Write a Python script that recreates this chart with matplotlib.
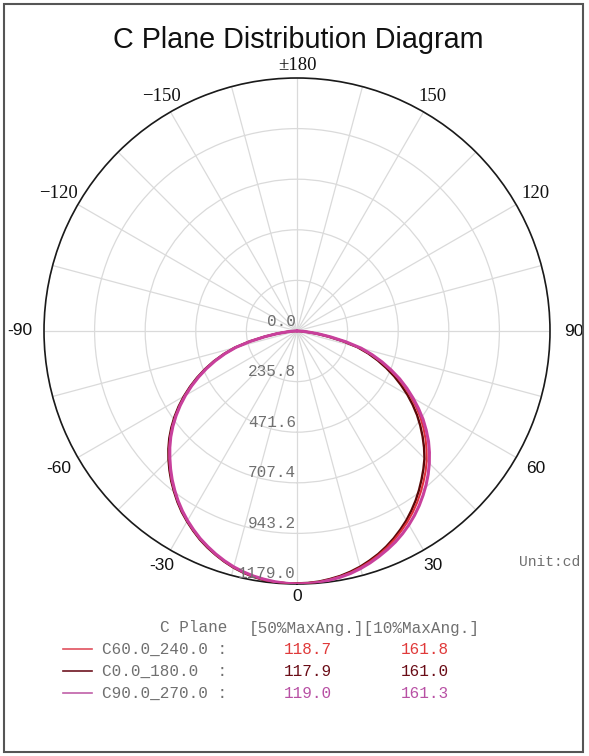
import numpy as np
import matplotlib
matplotlib.use("Agg")
import matplotlib.pyplot as plt
from matplotlib.lines import Line2D
from matplotlib.patches import Rectangle
from matplotlib.transforms import offset_copy

# ---------------- data ----------------
title = "C Plane Distribution Diagram"
# vertical angle (deg), -90 .. 90 in 2.5 deg steps
gamma = list(np.arange(-90, 90.01, 2.5))

c0_180 = [4, 22, 47, 96, 155, 228, 301, 358, 413, 464, 514, 562, 609, 654, 697, 738, 777, 813, 847,
          880, 912, 942, 972, 1000, 1025, 1049, 1072, 1092, 1110, 1127, 1142, 1154, 1164, 1171, 1175, 1176,
          1176,
          1175, 1172, 1166, 1159, 1149, 1137, 1122, 1106, 1087, 1066, 1043, 1019, 992, 964, 934, 903, 872,
          840, 803, 764, 724, 683, 639, 594, 547, 500, 450, 400, 348, 292, 218, 145, 88, 42, 18, 4]
c60_240 = [4, 21, 46, 94, 152, 224, 297, 354, 408, 459, 508, 556, 603, 648, 691, 732, 771, 807, 841,
           875, 908, 938, 968, 996, 1022, 1046, 1069, 1089, 1108, 1125, 1140, 1152, 1162, 1169, 1174, 1176,
           1177,
           1176, 1174, 1169, 1162, 1153, 1141, 1127, 1111, 1093, 1073, 1051, 1028, 1003, 976, 947, 917, 887,
           855, 819, 782, 743, 702, 658, 613, 566, 518, 466, 414, 360, 302, 226, 153, 94, 46, 20, 4]
c90_270 = [4, 20, 45, 92, 150, 222, 295, 352, 405, 456, 505, 553, 600, 645, 688, 729, 768, 804, 838,
           872, 905, 936, 966, 994, 1020, 1044, 1067, 1087, 1106, 1123, 1138, 1150, 1160, 1167, 1173, 1177,
           1179,
           1178, 1176, 1171, 1165, 1157, 1146, 1133, 1118, 1102, 1085, 1065, 1043, 1019, 993, 965, 936, 905,
           872, 837, 800, 759, 717, 671, 624, 577, 528, 475, 422, 367, 310, 235, 160, 100, 50, 22, 4]

ring_values = [235.8, 471.6, 707.4, 943.2, 1179.0]
ring_labels = ["0.0", "235.8", "471.6", "707.4", "943.2", "1179.0"]
label_radii = [0.0, 235.8, 471.6, 707.4, 943.2, 1179.0]

angle_ticks = [0, 30, 60, 90, 120, 150, 180, 210, 240, 270, 300, 330]
angle_labels = ["0", "30", "60", "90", "120", "150", "\u00b1180", "\u2212150", "\u2212120", "-90", "-60", "-30"]
serif_labels = {"120", "150", "\u00b1180", "\u2212150", "\u2212120"}

series_names = ["C60.0_240.0 :", "C0.0_180.0  :", "C90.0_270.0 :"]
half_angles = ["118.7", "117.9", "119.0"]
tenth_angles = ["161.8", "161.0", "161.3"]
line_colors = ["#e0505e", "#6e1420", "#c060a8"]
value_colors = ["#e03a3a", "#6a0c16", "#b850a4"]
curve_colors = {"c60": "#e0303c", "c0": "#5a0808", "c90": "#c8409c"}

# ---------------- figure ----------------
W, H = 589, 756
fig = plt.figure(figsize=(W / 100, H / 100), dpi=100)
fig.patch.set_facecolor("white")

def px(x, y):
    return x / W, 1 - y / H

# border frame
fig.add_artist(Rectangle(px(4, 752), (583 - 4) / W, (752 - 4) / H, transform=fig.transFigure,
                         fill=False, edgecolor="#555555", lw=1.5))

cx, cy, R = 297, 331, 253
ax = fig.add_axes([(cx - R) / W, (H - (cy + R)) / H, 2 * R / W, 2 * R / H], projection="polar")
ax.set_theta_zero_location("S")
ax.set_theta_direction(1)
ax.set_ylim(0, 1179.0)
ax.set_xticks(np.deg2rad(np.arange(0, 360, 15)))
ax.set_xticklabels([])
ax.set_yticks(ring_values)
ax.set_yticklabels([])
ax.tick_params(length=0)
ax.grid(True, color="#dadada", lw=0.9)
ax.spines["polar"].set_color("#1a1a1a")
ax.spines["polar"].set_linewidth(1.2)

th = np.deg2rad(gamma)
ax.plot(th, c0_180, color=curve_colors["c0"], lw=1.7, zorder=3, solid_joinstyle="round")
ax.plot(th, c60_240, color=curve_colors["c60"], lw=1.5, zorder=4, solid_joinstyle="round")
ax.plot(th, c90_270, color=curve_colors["c90"], lw=2.2, zorder=5, solid_joinstyle="round")

# radial labels
mono = "Liberation Mono"
tr = offset_copy(ax.transData, fig=fig, x=-1, y=10, units="dots")
for r, lab in zip(label_radii, ring_labels):
    ax.text(0, r, lab, transform=tr, ha="right", va="center", fontsize=11.5,
            family=mono, color="#707070", zorder=6)

# angle labels
for a, lab in zip(angle_ticks, angle_labels):
    t = np.deg2rad(a)
    fac = 1.05 + 0.045 * abs(np.sin(t))
    serif = lab in serif_labels
    fam = "Liberation Serif" if serif else "Liberation Sans"
    ax.text(t, 1179.0 * fac, lab, ha="center", va="center", fontsize=13.5 if serif else 12.5,
            family=fam, color="#111111", clip_on=False)

# title
fig.text(*px(298, 40), title, ha="center", va="center", fontsize=20.7,
         family="Liberation Sans", color="#111111")

# unit
fig.text(*px(519, 562), "Unit:cd", ha="left", va="center", fontsize=10.5,
         family=mono, color="#707070")

# legend table
fs = 11.5
fig.text(*px(160, 628), "C Plane", ha="left", va="center", fontsize=fs, family=mono, color="#707070")
fig.text(*px(249, 628), "[50%MaxAng.][10%MaxAng.]", ha="left", va="center", fontsize=fs,
         family=mono, color="#707070")
rows_y = [649, 671, 693]
for y, name, ha_v, te_v, lc, vc in zip(rows_y, series_names, half_angles, tenth_angles, line_colors, value_colors):
    fig.add_artist(Line2D([63 / W, 92 / W], [1 - y / H, 1 - y / H], color=lc, lw=1.2,
                          transform=fig.transFigure))
    fig.text(*px(102, y), name, ha="left", va="center", fontsize=fs, family=mono, color="#707070")
    fig.text(*px(308, y), ha_v, ha="center", va="center", fontsize=fs, family=mono, color=vc)
    fig.text(*px(425, y), te_v, ha="center", va="center", fontsize=fs, family=mono, color=vc)

fig.savefig("out.png", dpi=100)
